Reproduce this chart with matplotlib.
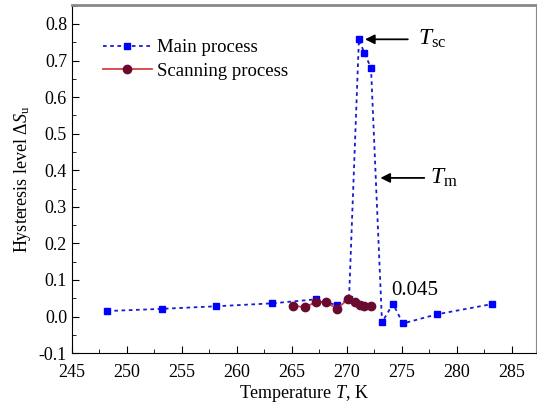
import matplotlib.pyplot as plt
from matplotlib.ticker import MultipleLocator

plt.rcParams['font.family'] = ['Liberation Serif', 'DejaVu Serif']
plt.rcParams['mathtext.fontset'] = 'custom'
plt.rcParams['mathtext.rm'] = 'Liberation Serif'
plt.rcParams['mathtext.it'] = 'Liberation Serif:italic'

# main process (blue squares)
mainT = [248.2, 253.2, 258.1, 263.2, 267.2, 269.1, 270.2, 271.1, 271.6, 272.2,
         273.2, 274.2, 275.1, 278.2, 283.2]
mainS = [0.015, 0.021, 0.028, 0.036, 0.047, 0.031, 0.048, 0.758, 0.72, 0.68,
         -0.016, 0.035, -0.019, 0.006, 0.034]

# scanning process (maroon circles)
scanT = [265.1, 266.2, 267.2, 268.1, 269.1, 270.1, 270.7, 271.2, 271.6, 272.2]
scanS = [0.030, 0.025, 0.040, 0.040, 0.021, 0.047, 0.039, 0.031, 0.028, 0.028]

fig = plt.figure(figsize=(5.37, 4.12), dpi=100)
ax = fig.add_axes([0.134, 0.143, 0.864, 0.845])

ax.plot(mainT, mainS, color='#1a1acc', linestyle=(0, (2, 2)), linewidth=1.3,
        marker='s', markersize=5, markerfacecolor='#0000ff', markeredgecolor='#0000ff',
        label='Main process', zorder=2)
ax.plot(scanT, scanS, color='#d84040', linewidth=1.3, marker='o', markersize=6,
        markerfacecolor='#6a0a30', markeredgecolor='#6a0a30',
        label='Scanning process', zorder=3)

ax.annotate('', xy=(271.4, 0.758), xytext=(275.8, 0.758),
            arrowprops=dict(arrowstyle='-|>', color='black', lw=1.3, mutation_scale=14))
ax.text(276.5, 0.758, r'$T_{\mathrm{sc}}$', fontsize=17, va='center', ha='left')
ax.annotate('', xy=(272.8, 0.379), xytext=(277.3, 0.379),
            arrowprops=dict(arrowstyle='-|>', color='black', lw=1.3, mutation_scale=14))
ax.text(277.6, 0.379, r'$T_{\mathrm{m}}$', fontsize=17, va='center', ha='left')
ax.text(274.0, 0.072, '0.045', fontsize=15, va='center', ha='left')

ax.set_xlim(245, 287.2)
ax.set_ylim(-0.1, 0.852)
ax.xaxis.set_major_locator(MultipleLocator(5))
ax.xaxis.set_minor_locator(MultipleLocator(2.5))
ax.yaxis.set_major_locator(MultipleLocator(0.1))
ax.yaxis.set_minor_locator(MultipleLocator(0.05))
ax.yaxis.set_major_formatter(plt.FuncFormatter(lambda v, p: f'{v:.1f}'))
ax.tick_params(which='both', direction='in', labelsize=13, top=False, right=False)
ax.tick_params(which='major', length=5)
ax.tick_params(which='minor', length=3)
ax.tick_params(axis='x', pad=8)

ax.set_xlabel(r'Temperature $T$, K', fontsize=13, labelpad=1)
ax.set_ylabel(r'Hysteresis level $\Delta S_{\mathrm{u}}$', fontsize=13)

for s in ['top', 'right']:
    ax.spines[s].set_color('#888888')
ax.spines['top'].set_linewidth(2)

ax.legend(loc='upper left', bbox_to_anchor=(0.03, 0.95), frameon=False, fontsize=13.5,
          handlelength=2.6, handletextpad=0.3, labelspacing=0.35)

fig.savefig('out.png', dpi=100)
